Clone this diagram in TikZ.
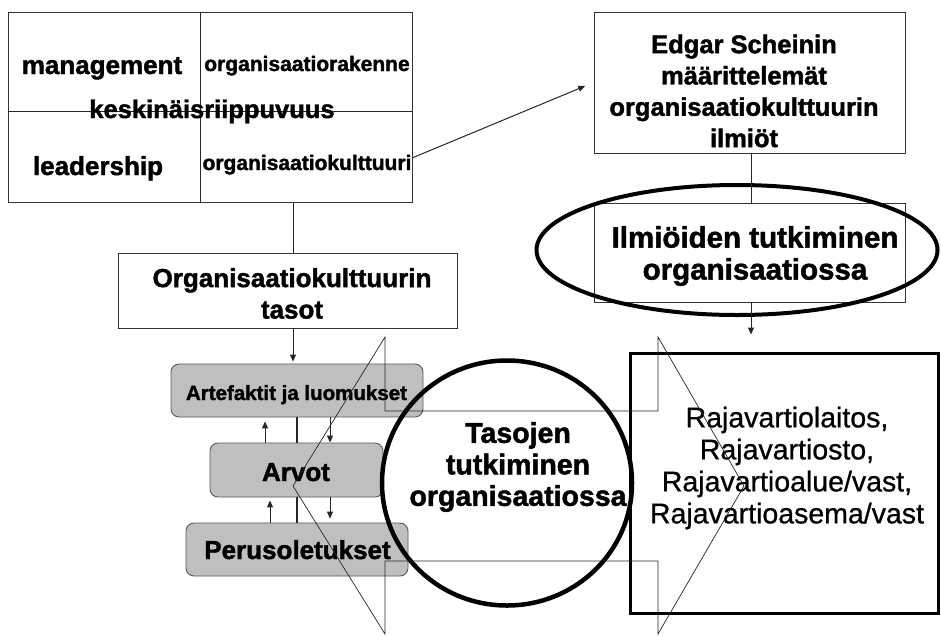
\documentclass[tikz,border=0pt]{standalone}
\usepackage{fontspec}
\setmainfont{Liberation Sans}[BoldFeatures={FakeBold=1.6}]
\newfontfamily\rajafont{Liberation Sans}[FakeBold=0.8]
\usetikzlibrary{shapes.geometric,arrows.meta}
\newcommand\fs[2]{\fontsize{#1}{#2}\selectfont}
\begin{document}
\begin{tikzpicture}[x=1pt,y=-1pt,
  frame/.style={draw=black!80, line width=0.9pt, inner sep=0pt},
  layerbox/.style={draw=black!65, fill=black!25, rounded corners=8pt, line width=0.9pt, inner sep=0pt},
  lbl/.style={inner sep=0pt, align=center, text=black},
  arr/.style={draw=black!85, line width=1pt, -{Triangle[length=7pt,width=6pt]}},
  thinline/.style={draw=black!85, line width=0.8pt},
  ring/.style={draw=black, line width=4.5pt, ellipse, inner sep=0pt}
]
\path[use as bounding box] (0,0) rectangle (941,635);

% grid
\node[frame, minimum width=404pt, minimum height=190pt] (grid) at (210,107) {};
\draw[thinline] (200,12) -- (200,202);
\draw[thinline] (8,111) -- (412,111);
\node[lbl, anchor=base, font=\bfseries\fs{26}{30}] (mgmt) at (102,74) {management};
\node[lbl, anchor=base, font=\bfseries\fs{21}{25}] (orgr) at (307,71) {organisaatiorakenne};
\node[lbl, anchor=base, font=\bfseries\fs{25.5}{30}] (kesk) at (212,118) {keskinäisriippuvuus};
\node[lbl, anchor=base, font=\bfseries\fs{26}{30}] (lead) at (98,175) {leadership};
\node[lbl, anchor=base, font=\bfseries\fs{21}{25}] (orgk) at (307,170) {organisaatiokulttuuri};

% Edgar
\node[frame, minimum width=311pt, minimum height=141pt] (edgar) at (749.5,82.5) {};
\node[lbl, font=\bfseries\fs{25.5}{31.3}] (edgart) at (744,91) {Edgar Scheinin\\määrittelemät\\organisaatiokulttuurin\\ilmiöt};

% Ilmiöiden
\node[frame, minimum width=311pt, minimum height=99pt] (ilm) at (749.5,252.5) {};
\node[lbl, font=\bfseries\fs{29.5}{32}] (ilmt) at (755,256) {Ilmiöiden tutkiminen\\organisaatiossa};
\node[ring, line width=4pt, minimum width=401pt, minimum height=130pt] (ilmring) at (737,250) {};

% Organisaatiokulttuurin tasot
\node[frame, minimum width=339pt, minimum height=75pt] (orgb) at (287.5,290.5) {};
\node[lbl, font=\bfseries\fs{26}{31.5}] (orgbt) at (292,293.5) {Organisaatiokulttuurin\\tasot};

% layers
\node[layerbox, minimum width=252pt, minimum height=53pt] (art) at (297,390.5) {};
\node[lbl, anchor=base, font=\bfseries\fs{20.5}{24}] (artt) at (296.5,400) {Artefaktit ja luomukset};
\node[layerbox, minimum width=173pt, minimum height=54pt] (arv) at (296.5,470) {};
\node[lbl, anchor=base, font=\bfseries\fs{26}{30}] (arvt) at (296,481) {Arvot};
\node[layerbox, minimum width=222pt, minimum height=53pt] (per) at (297,549.5) {};
\node[lbl, anchor=base, font=\bfseries\fs{26}{30}] (pert) at (297.5,559) {Perusoletukset};

% circle
\node[ring, minimum width=250pt, minimum height=245pt] (circ) at (507,483) {};
\node[lbl, font=\bfseries\fs{28.5}{31.5}] (circt) at (518,467) {Tasojen\\tutkiminen\\organisaatiossa};

% Raja box
\node[frame, draw=black, line width=3pt, minimum width=308pt, minimum height=260pt] (raja) at (784,483) {};
\node[lbl, font=\rajafont\fs{28.5}{32}] (rajat) at (787,468) {Rajavartiolaitos,\\Rajavartiosto,\\Rajavartioalue/vast,\\Rajavartioasema/vast};

% connectors
\coordinate (xa) at (293,0);
\draw[thinline] (grid.south -| xa) -- (orgb.north -| xa);
\draw[arr, shorten >=2pt] (orgb.south -| xa) -- (art.north -| xa);

\coordinate (xb) at (297,0);
\draw[black!85, line width=2pt] (art.south -| xb) -- (arv.north -| xb);
\draw[black!85, line width=2pt] (arv.south -| xb) -- (per.north -| xb);
\coordinate (xuA) at (265,0);
\coordinate (xuB) at (270,0);
\coordinate (xd) at (330,0);
\draw[arr, shorten >=4pt] (arv.north -| xuA) -- (art.south -| xuA);
\draw[arr] (art.south -| xd) -- (arv.north -| xd);
\draw[arr, shorten >=3pt] (per.north -| xuB) -- (arv.south -| xuB);
\draw[arr, shorten >=4pt] (arv.south -| xd) -- (per.north -| xd);

\coordinate (xc) at (751,0);
\draw[thinline] (edgar.south -| xc) -- (ilm.north -| xc);
\draw[arr, shorten >=17pt] (ilm.south -| xc) -- (raja.north -| xc);

\coordinate (gout) at (412,158);
\draw[arr, shorten >=9pt] (gout) -- (edgar.west);

% double block arrow outline
\draw[thinline, line width=0.7pt] (385,337) -- (293,486) -- (385,634) -- (385,561) -- (658,561) -- (658,634) -- (744,486) -- (658,337) -- (658,411) -- (385,411) -- cycle;
\end{tikzpicture}
\end{document}
